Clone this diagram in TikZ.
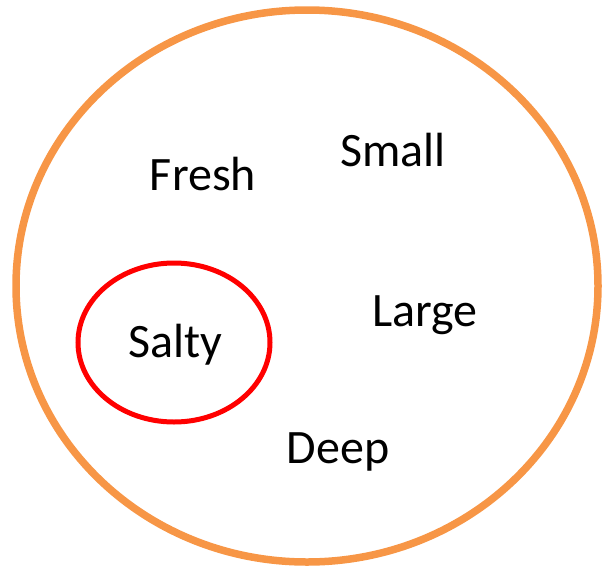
\documentclass[tikz,border=0pt]{standalone}
\usepackage{fontspec}
\setmainfont{Carlito}
\usetikzlibrary{calc}

\definecolor{ringorange}{HTML}{F79646}
\definecolor{ringred}{HTML}{FF0000}

\begin{document}
\begin{tikzpicture}[x=1pt, y=-1pt,
    word/.style={anchor=base, inner sep=0pt, font=\fontsize{48}{57}\selectfont}]
  \useasboundingbox (0,0) rectangle (602,568);
  % outer ring and the one around Salty
  \coordinate (O) at (307,286);
  \coordinate (R) at (174,342.5);
  \draw[ringorange, line width=7.5pt] (O) ellipse [x radius=291pt, y radius=276pt];
  \draw[ringred, line width=5pt] (R) ellipse [x radius=96pt, y radius=79.5pt];
  \node[word] (fresh) at (203,190) {Fresh};
  \node[word] (small) at (393,166.5) {Small};
  \node[word] (salty) at (175,357) {Salty};
  \node[word] (large) at (425,326) {Large};
  \node[word] (deep) at (338,463) {Deep};
\end{tikzpicture}
\end{document}
